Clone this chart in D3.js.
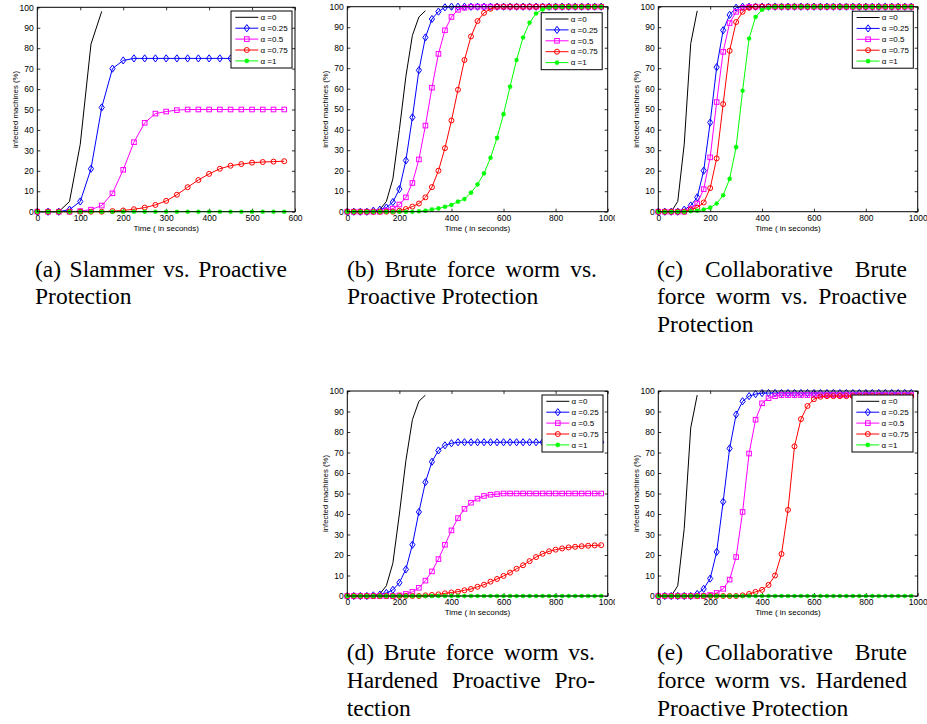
<!DOCTYPE html>
<html>
<head>
<meta charset="utf-8">
<script src="https://cdn.jsdelivr.net/npm/d3@7"></script>
<style>
  body { margin: 0; background: #fff; }
  svg { display: block; }
</style>
</head>
<body>
<svg id="svg" width="927" height="724"></svg>
<script>
// time steps of the simulation (seconds)
const t600 = d3.range(0, 600, 25);
const t1000 = d3.range(0, 1000, 25);

// alpha = 0 curves (no markers)
const tBlackFast = [0, 25, 50, 75, 100, 125, 150];
const blackFast = [0, 0, 0, 5, 33, 82, 98];
const tBlackSlow = [0, 25, 50, 75, 100, 125, 150, 175, 200, 225, 250, 275, 300];
const blackSlow = [0, 0, 0, 0, 0, 1, 5, 16, 40, 66, 86, 95, 98];

// (a) Slammer vs. Proactive Protection
const blueA = [0, 0, 0, 1, 5, 21, 51, 70, 74, 75, 75, 75, 75, 75, 75, 75, 75, 75, 75, 75, 75, 75, 75, 75];
const magA = [0, 0, 0, 0, 0.3, 1, 3, 9, 20.5, 34, 43.5, 48, 49, 49.7, 50, 50, 50, 50, 50, 50, 50, 50, 50, 50];
const redA = [0, 0, 0, 0, 0, 0, 0, 0.3, 0.6, 1.2, 2, 3.3, 5.3, 8.3, 12, 15.5, 18.5, 21, 22.5, 23.3, 24, 24.3, 24.5, 24.7];
const greenA = [0, 0, 0, 0, 0, 0, 0, 0, 0, 0, 0, 0, 0, 0, 0, 0, 0, 0, 0, 0, 0, 0, 0, 0];

// (b) Brute force worm vs. Proactive Protection
const blueB = [0, 0, 0, 0, 0.5, 1, 2, 4.7, 11, 25, 46, 69, 85, 94, 97.6, 99.7,
  100, 100, 100, 100, 100, 100, 100, 100, 100, 100, 100, 100, 100, 100, 100, 100, 100, 100, 100, 100, 100, 100, 100, 100];
const magB = [0, 0, 0, 0, 0, 0, 0.5, 1.5, 3.5, 7, 14, 25.5, 42, 60.5, 77, 88.5, 95, 98.5, 99.5,
  100, 100, 100, 100, 100, 100, 100, 100, 100, 100, 100, 100, 100, 100, 100, 100, 100, 100, 100, 100, 100];
const redB = [0, 0, 0, 0, 0, 0, 0, 0, 0.5, 1.3, 2.5, 4, 7, 12, 20, 31, 44.5, 59.5, 74, 85.5, 93, 97, 99,
  100, 100, 100, 100, 100, 100, 100, 100, 100, 100, 100, 100, 100, 100, 100, 100, 100];
const greenB = [0, 0, 0, 0, 0, 0, 0, 0, 0, 0, 0, 0.2, 0.5, 1.1, 1.6, 2.4, 3.3, 4.9, 6.2, 9.3, 13.3, 18.7,
  26.3, 36, 47.6, 61, 74, 85, 92.2, 96.7, 98.7, 99.7, 100, 100, 100, 100, 100, 100, 100, 100];

// (c) Collaborative Brute force worm vs. Proactive Protection
const blueC = [0, 0, 0, 0, 1, 3, 7, 20, 43.5, 70.5, 88.5, 96, 99.5,
  100, 100, 100, 100, 100, 100, 100, 100, 100, 100, 100, 100, 100, 100, 100, 100, 100, 100, 100, 100, 100, 100, 100, 100, 100, 100, 100];
const magC = [0, 0, 0, 0, 0, 1.5, 4, 11, 26.5, 53.5, 78, 92, 97.5, 99.5,
  100, 100, 100, 100, 100, 100, 100, 100, 100, 100, 100, 100, 100, 100, 100, 100, 100, 100, 100, 100, 100, 100, 100, 100, 100, 100];
const redC = [0, 0, 0, 0, 0, 1, 2, 4.5, 11.5, 26, 52.5, 78.5, 92.5, 97.5, 99.5,
  100, 100, 100, 100, 100, 100, 100, 100, 100, 100, 100, 100, 100, 100, 100, 100, 100, 100, 100, 100, 100, 100, 100, 100, 100];
const greenC = [0, 0, 0, 0, 0, 0.2, 0.5, 1, 2, 4, 8, 16, 31.5, 59, 84.5, 95, 98.5, 99.5,
  100, 100, 100, 100, 100, 100, 100, 100, 100, 100, 100, 100, 100, 100, 100, 100, 100, 100, 100, 100, 100, 100];

// (d) Brute force worm vs. Hardened Proactive Protection
const blueD = [0, 0, 0, 0, 0.3, 0.7, 1.5, 3, 6.5, 13, 25, 41, 55.5, 65.5, 71, 73.5, 74.5,
  75, 75, 75, 75, 75, 75, 75, 75, 75, 75, 75, 75, 75, 75, 75, 75, 75, 75, 75, 75, 75, 75, 75];
const magD = [0, 0, 0, 0, 0, 0, 0, 0, 0.3, 1, 2, 4, 7.5, 12, 18, 25, 32, 38, 42.5, 45.5, 47.5, 48.8, 49.4, 49.7,
  50, 50, 50, 50, 50, 50, 50, 50, 50, 50, 50, 50, 50, 50, 50, 50];
const redD = [0, 0, 0, 0, 0, 0, 0, 0, 0, 0, 0, 0, 0.3, 0.5, 0.8, 1.3, 1.7, 2.1, 2.8, 3.4, 4.5, 5.5, 7, 8.3,
  9.8, 11.4, 13.3, 15, 17, 19, 20.6, 21.8, 22.6, 23.2, 23.7, 24, 24.3, 24.5, 24.7, 24.8];
const greenD = [0, 0, 0, 0, 0, 0, 0, 0, 0, 0, 0, 0, 0, 0, 0, 0, 0, 0, 0, 0,
  0, 0, 0, 0, 0, 0, 0, 0, 0, 0, 0, 0, 0, 0, 0, 0, 0, 0, 0, 0];

// (e) Collaborative Brute force worm vs. Hardened Proactive Protection
const blueE = [0, 0, 0, 0, 0, 0, 1, 3.5, 8.5, 21.5, 46, 72, 88.5, 95, 97.5, 98.5,
  99, 99, 99, 99, 99, 99, 99, 99, 99, 99, 99, 99, 99, 99, 99, 99, 99, 99, 99, 99, 99, 99, 99, 99];
const magE = [0, 0, 0, 0, 0, 0, 0, 0, 0.5, 1.5, 3.5, 8, 19, 41, 69.5, 86, 94, 96.5, 97.5,
  98, 98, 98, 98, 98, 98, 98, 98, 98, 98, 98, 98, 98, 98, 98, 98, 98, 98, 98, 98, 98];
const redE = [0, 0, 0, 0, 0, 0, 0, 0, 0, 0, 0, 0, 0, 0.3, 1, 2, 3, 5.4, 10, 20.5, 42, 73, 86.3, 92.7, 96, 97.2,
  97.5, 97.5, 97.5, 97.5, 97.5, 97.5, 97.5, 97.5, 97.5, 97.5, 97.5, 97.5, 97.5, 97.5];
const greenE = [0, 0, 0, 0, 0, 0, 0, 0, 0, 0, 0, 0, 0, 0, 0, 0, 0, 0, 0, 0,
  0, 0, 0, 0, 0, 0, 0, 0, 0, 0, 0, 0, 0, 0, 0, 0, 0, 0, 0, 0];

const legendLabels = ["\u03B1 =0", "\u03B1 =0.25", "\u03B1 =0.5", "\u03B1 =0.75", "\u03B1 =1"];
const seriesColors = ["#000000", "#0000ff", "#ff00ff", "#ff0000", "#00ff00"];
const seriesMarkers = [null, "diamond", "square", "circle", "star"];

const yLabel = "infected machines (%)";
const xLabel = "Time ( in seconds)";

const captionA = ["(a) Slammer vs. Proactive", "Protection"];
const captionB = ["(b) Brute force worm vs.", "Proactive Protection"];
const captionC = ["(c) Collaborative Brute", "force worm vs. Proactive", "Protection"];
const captionD = ["(d) Brute force worm vs.", "Hardened Proactive Pro-", "tection"];
const captionE = ["(e) Collaborative Brute", "force worm vs. Hardened", "Proactive Protection"];

const panels = [
  { x0: 37.3, x1: 295, y0: 7.3, y1: 211.7, xMax: 600, xStep: 100, clipX: 0, clipW: 310,
    t: t600, tb: tBlackFast, black: blackFast, curves: [blueA, magA, redA, greenA],
    caption: captionA, capX0: 35, capX1: 287, capY: 276.5, legendTop: 3.7, legendRight: 3 },
  { x0: 347.3, x1: 607.7, y0: 6.7, y1: 211.7, xMax: 1000, xStep: 200, clipX: 310, clipW: 305,
    t: t1000, tb: tBlackSlow, black: blackSlow, curves: [blueB, magB, redB, greenB],
    caption: captionB, capX0: 347, capX1: 597, capY: 276.5, legendTop: 6, legendRight: 5.5 },
  { x0: 658.3, x1: 917.7, y0: 6.7, y1: 211.7, xMax: 1000, xStep: 200, clipX: 615, clipW: 312,
    t: t1000, tb: tBlackFast, black: blackFast, curves: [blueC, magC, redC, greenC],
    caption: captionC, capX0: 657, capX1: 907, capY: 276.5, legendTop: 4.5, legendRight: 4.4 },
  { x0: 347.3, x1: 607.7, y0: 391, y1: 596, xMax: 1000, xStep: 200, clipX: 310, clipW: 305,
    t: t1000, tb: tBlackSlow, black: blackSlow, curves: [blueD, magD, redD, greenD],
    caption: captionD, capX0: 346.7, capX1: 595, capY: 660, legendTop: 4, legendRight: 4.7 },
  { x0: 658.3, x1: 917.7, y0: 391, y1: 596, xMax: 1000, xStep: 200, clipX: 615, clipW: 312,
    t: t1000, tb: tBlackFast, black: blackFast, curves: [blueE, magE, redE, greenE],
    caption: captionE, capX0: 657, capX1: 907, capY: 660, legendTop: 4, legendRight: 4.7 }
];

const svg = d3.select("#svg");
const axisFont = "'Liberation Sans', Arial, sans-serif";
const capFont = "'Liberation Serif', 'Times New Roman', serif";

function drawMarker(g, type, x, y, color) {
  if (type === "diamond") {
    g.append("path").attr("d", `M${x},${y - 3.6}L${x + 2.6},${y}L${x},${y + 3.6}L${x - 2.6},${y}Z`)
      .attr("fill", "none").attr("stroke", color).attr("stroke-width", 1);
  } else if (type === "square") {
    g.append("rect").attr("x", x - 2.3).attr("y", y - 2.3).attr("width", 4.6).attr("height", 4.6)
      .attr("fill", "none").attr("stroke", color).attr("stroke-width", 1);
  } else if (type === "circle") {
    g.append("circle").attr("cx", x).attr("cy", y).attr("r", 2.5)
      .attr("fill", "none").attr("stroke", color).attr("stroke-width", 1);
  } else if (type === "star") {
    const r = 2.3, d = 1.65;
    g.append("path")
      .attr("d", `M${x - r},${y}H${x + r}M${x},${y - r}V${y + r}M${x - d},${y - d}L${x + d},${y + d}M${x - d},${y + d}L${x + d},${y - d}`)
      .attr("stroke", color).attr("stroke-width", 1.2);
  }
}

panels.forEach((p, pi) => {
  const clipId = "clip" + pi;
  svg.append("clipPath").attr("id", clipId)
    .append("rect").attr("x", p.clipX).attr("y", 0).attr("width", p.clipW).attr("height", 724);
  const g = svg.append("g").attr("clip-path", `url(#${clipId})`);

  const x = d3.scaleLinear().domain([0, p.xMax]).range([p.x0, p.x1]);
  const y = d3.scaleLinear().domain([0, 100]).range([p.y1, p.y0]);
  const xTicks = d3.range(0, p.xMax + 1, p.xStep);
  const yTicks = d3.range(0, 101, 10);
  const fmt = d3.format("d");

  // axes with inward ticks (MATLAB style)
  const styleAxis = (a) => {
    a.select(".domain").remove();
    a.selectAll("line").attr("stroke", "#000").attr("stroke-width", 0.8);
    a.selectAll("text").attr("fill", "#000").style("font-family", axisFont).style("font-size", "8.5px");
  };
  g.append("g").attr("transform", `translate(0,${p.y1})`)
    .call(d3.axisBottom(x).tickValues(xTicks).tickFormat(fmt).tickSize(-3).tickPadding(3.2)).call(styleAxis);
  g.append("g").attr("transform", `translate(0,${p.y0})`)
    .call(d3.axisTop(x).tickValues(xTicks).tickSize(-3).tickFormat("")).call(styleAxis);
  g.append("g").attr("transform", `translate(${p.x0},0)`)
    .call(d3.axisLeft(y).tickValues(yTicks).tickFormat(fmt).tickSize(-3).tickPadding(3.5)).call(styleAxis);
  g.append("g").attr("transform", `translate(${p.x1},0)`)
    .call(d3.axisRight(y).tickValues(yTicks).tickSize(-3).tickFormat("")).call(styleAxis);

  // curves
  const line = d3.line().x((d) => x(d[0])).y((d) => y(d[1]));
  g.append("path").datum(p.tb.map((t, i) => [t, p.black[i]]))
    .attr("d", line).attr("fill", "none").attr("stroke", seriesColors[0]).attr("stroke-width", 1);

  p.curves.forEach((vals, ci) => {
    const pts = p.t.map((t, i) => [t, vals[i]]);
    const col = seriesColors[ci + 1];
    g.append("path").datum(pts).attr("d", line)
      .attr("fill", "none").attr("stroke", col).attr("stroke-width", 1);
    const mg = g.append("g");
    pts.forEach((d) => drawMarker(mg, seriesMarkers[ci + 1], x(d[0]), y(d[1]), col));
  });

  // box
  g.append("rect").attr("x", p.x0).attr("y", p.y0)
    .attr("width", p.x1 - p.x0).attr("height", p.y1 - p.y0)
    .attr("fill", "none").attr("stroke", "#000").attr("stroke-width", 1);

  // axis labels
  g.append("text").attr("x", (p.x0 + p.x1) / 2).attr("y", p.y1 + 16.6).attr("dy", "0.35em")
    .attr("text-anchor", "middle").style("font-family", axisFont).style("font-size", "8px")
    .text(xLabel);
  g.append("text")
    .attr("transform", `translate(${p.x0 - 22.3},${(p.y0 + p.y1) / 2}) rotate(-90)`)
    .attr("dy", "0.35em").attr("text-anchor", "middle")
    .style("font-family", axisFont).style("font-size", "7.8px").text(yLabel);

  // legend
  const lw = 61, lh = 57;
  const lg = g.append("g").attr("transform", `translate(${p.x1 - p.legendRight - lw},${p.y0 + p.legendTop})`);
  lg.append("rect").attr("width", lw).attr("height", lh)
    .attr("fill", "#fff").attr("stroke", "#000").attr("stroke-width", 1);
  legendLabels.forEach((lab, i) => {
    const ly = 6.3 + i * 10.9;
    lg.append("line").attr("x1", 4.3).attr("x2", 27.3).attr("y1", ly).attr("y2", ly)
      .attr("stroke", seriesColors[i]).attr("stroke-width", 1);
    if (seriesMarkers[i]) drawMarker(lg, seriesMarkers[i], 15.8, ly, seriesColors[i]);
    lg.append("text").attr("x", 29.5).attr("y", ly).attr("dy", "0.35em")
      .style("font-family", axisFont).style("font-size", "8px").text(lab);
  });

  // caption (justified like the LaTeX subcaption)
  const cg = svg.append("g").style("font-family", capFont).style("font-size", "23.5px").attr("fill", "#000");
  p.caption.forEach((txt, li) => {
    const by = p.capY + li * 27.8;
    const last = li === p.caption.length - 1;
    if (last) {
      cg.append("text").attr("x", p.capX0).attr("y", by).text(txt);
      return;
    }
    const words = txt.split(" ");
    const nodes = words.map((w) => cg.append("text").attr("y", by).text(w));
    const widths = nodes.map((n) => n.node().getComputedTextLength());
    const gap = (p.capX1 - p.capX0 - d3.sum(widths)) / (words.length - 1);
    let cx = p.capX0;
    nodes.forEach((n, i) => { n.attr("x", cx); cx += widths[i] + gap; });
  });
});
</script>
</body>
</html>
